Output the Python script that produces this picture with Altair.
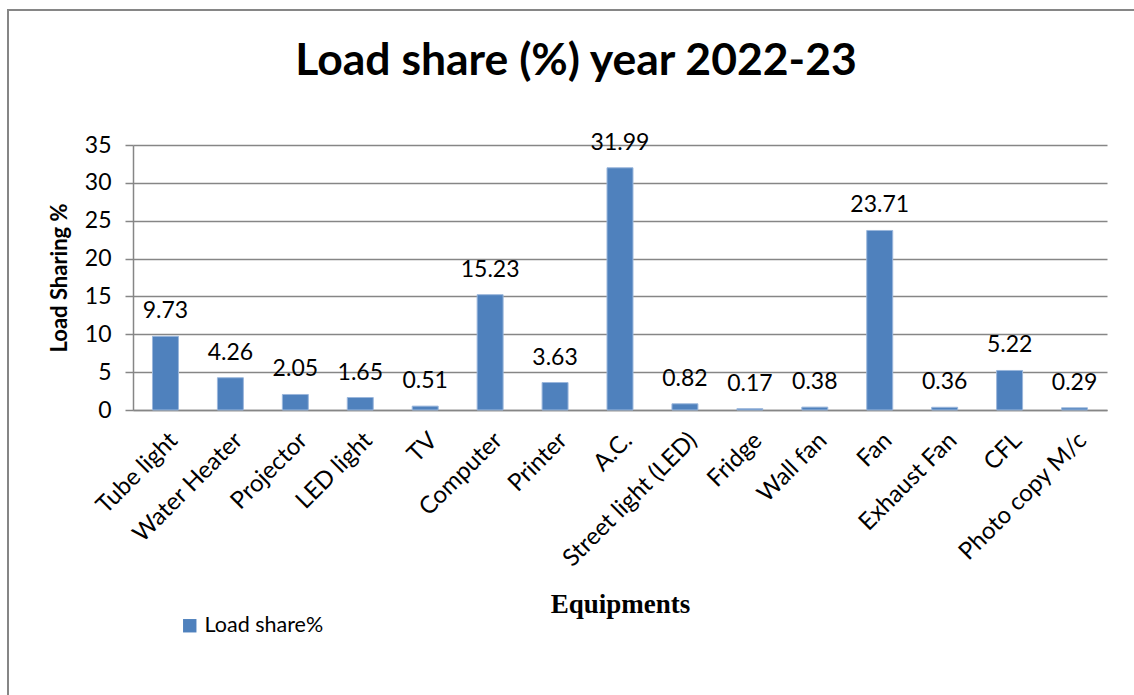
import altair as alt
import pandas as pd

categories = ["Tube light", "Water Heater", "Projector", "LED light", "TV", "Computer",
              "Printer", "A.C.", "Street light (LED)", "Fridge", "Wall fan", "Fan",
              "Exhaust Fan", "CFL", "Photo copy M/c"]
values = [9.73, 4.26, 2.05, 1.65, 0.51, 15.23, 3.63, 31.99, 0.82, 0.17, 0.38, 23.71, 0.36, 5.22, 0.29]
series = ["Load share%"] * len(categories)
y_ticks = [0, 5, 10, 15, 20, 25, 30, 35]
title_text = ["Load share (%) year 2022-23"]

df = pd.DataFrame({"Equipment": categories, "Value": values, "Series": series,
                   "Label": [f"{v:.2f}" for v in values]})
tdf = pd.DataFrame({"t": title_text})

W, H = 974, 265
FONT = "Lato"

x_enc = alt.X("Equipment:N", sort=categories,
              scale=alt.Scale(paddingInner=0.6, paddingOuter=0.3),
              axis=alt.Axis(title="Equipments", labelAngle=-45, labelFontSize=24,
                            labelFont=FONT, labelColor="black", labelPadding=18,
                            ticks=False, domainColor="#868686", domainWidth=1.5,
                            titleFont="Liberation Serif", titleFontSize=27,
                            titleFontWeight="bold", titleColor="black",
                            titleBaseline="alphabetic", titleY=202, titleX=W / 2,
                            labelOverlap=False))
y_enc = alt.Y("Value:Q", scale=alt.Scale(domain=[0, 35], nice=False),
              axis=alt.Axis(title="Load Sharing %", values=y_ticks, labelFontSize=23,
                            labelFont=FONT, labelColor="black", tickSize=8,
                            tickColor="#868686", tickWidth=1.5, labelPadding=14,
                            domainColor="#868686", domainWidth=1.5, labelOverlap=False,
                            gridColor="#868686", gridWidth=1.5,
                            titleFont=FONT, titleFontSize=22, titleFontWeight="bold",
                            titleColor="black", titleX=-74, titleY=H / 2,
                            titleBaseline="middle", titleAlign="center", titleAngle=270))

border = alt.Chart(df).mark_rect(fill=None, stroke="#868686", strokeWidth=2).encode(
    x=alt.value(-125), x2=alt.value(W + 100), y=alt.value(-135), y2=alt.value(H + 300))

title = alt.Chart(tdf).mark_text(font=FONT, fontSize=44.5, fontWeight="bold", color="black",
                                 baseline="alphabetic", align="center").encode(
    x=alt.value(443), y=alt.value(-70), text="t:N")

bars = alt.Chart(df).mark_bar(stroke="#9BB7DC", strokeWidth=1).encode(
    x=x_enc, y=y_enc,
    color=alt.Color("Series:N", scale=alt.Scale(range=["#4F81BD"]),
                    legend=alt.Legend(title=None, orient="none", legendX=46, legendY=470,
                                      symbolType="square", symbolSize=180,
                                      symbolStrokeWidth=0, labelFontSize=21.5,
                                      labelFont=FONT, labelColor="black")))

labels = alt.Chart(df).mark_text(fontSize=23, font=FONT, baseline="alphabetic",
                                 dy=-18, color="black").encode(
    x=x_enc, y=y_enc, text="Label:N")

chart = alt.layer(border, title, bars, labels).properties(
    width=W, height=H,
    background="white",
    padding={"left": 133, "top": 145, "right": 27, "bottom": 285},
    autosize=alt.AutoSizeParams(type="none"),
).configure_view(stroke=None)

chart.save("out.html", embed_options={"renderer": "svg", "actions": False})
